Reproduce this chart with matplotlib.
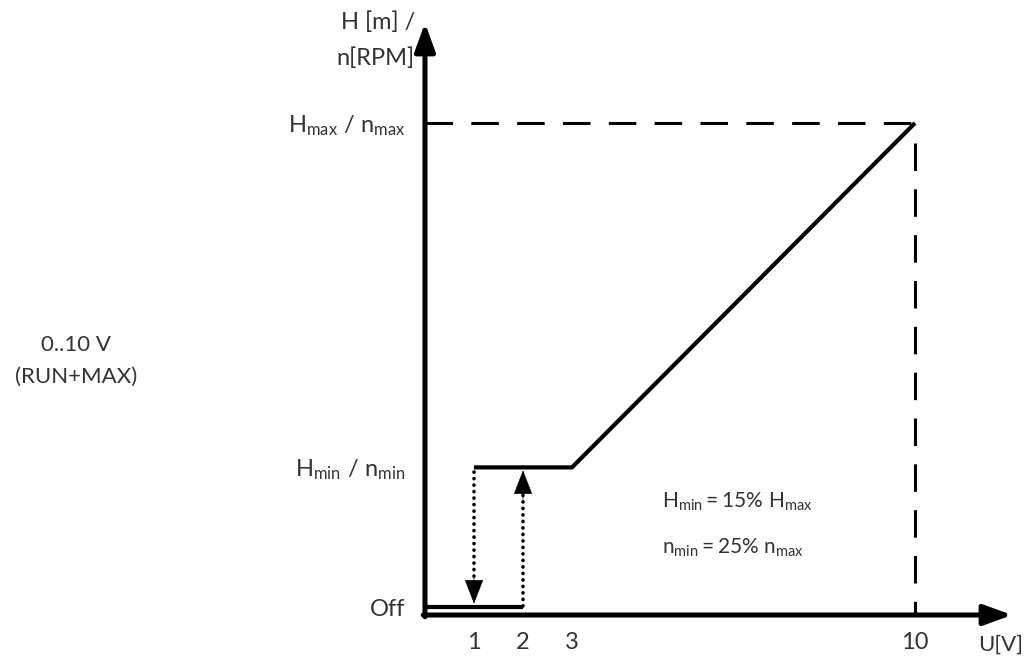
import matplotlib
matplotlib.use("Agg")
import matplotlib.pyplot as plt

# ---- data ----
x_ticks = [1, 2, 3, 10]
x_tick_labels = ["1", "2", "3", "10"]
off_level = 1.6
h_min = 30.0
h_max = 100.0
curve_x = [1, 3, 10]          # Hmin plateau from 1 to 3, ramp to 10
curve_y = [h_min, h_min, h_max]
off_x = [0, 2]
off_y = [off_level, off_level]
y_tick_vals = [off_level, h_min, h_max]
switch_off_v = 1
switch_on_v = 2

plt.rcParams['font.family'] = ['Lato', 'DejaVu Sans']
plt.rcParams['mathtext.fontset'] = 'custom'
plt.rcParams['mathtext.rm'] = 'Lato'
plt.rcParams['mathtext.it'] = 'Lato'

TXT = '#333333'
W, H = 1032, 659
fig = plt.figure(figsize=(W / 100, H / 100), dpi=100)
ax = fig.add_axes([425 / W, (H - 615) / H, (1012 - 425) / W, (615 - 23) / H])
ax.set_xlim(0, (1012 - 425) / 49)
ax.set_ylim(0, (615 - 23) / 4.92)

for s in ['top', 'right', 'left', 'bottom']:
    ax.spines[s].set_visible(False)
ax.tick_params(length=0, labelsize=17, colors=TXT)
ax.set_xticks(x_ticks)
ax.set_xticklabels(x_tick_labels)
ax.tick_params(axis='x', pad=12)
ax.set_yticks(y_tick_vals)
ax.set_yticklabels(['Off',
                    r'$\mathregular{H_{min}\ /\ n_{min}}$',
                    r'$\mathregular{H_{max}\ /\ n_{max}}$'])
ax.tick_params(axis='y', pad=14)

# axes drawn as arrows
axis_arrow = dict(arrowstyle='-|>,head_length=1.7,head_width=0.62', lw=3.6,
                  color='black', shrinkA=0, shrinkB=0)
ax.annotate('', xy=(1, 0), xytext=(-0.003, 0), xycoords='axes fraction',
            arrowprops=axis_arrow, annotation_clip=False)
ax.annotate('', xy=(0, 1), xytext=(0, -0.003), xycoords='axes fraction',
            arrowprops=axis_arrow, annotation_clip=False)

# main curve
ax.plot(curve_x, curve_y, color='black', lw=3.0, solid_capstyle='butt', clip_on=False)
ax.plot(off_x, off_y, color='black', lw=3.0, solid_capstyle='butt', clip_on=False)

# dashed guides to Hmax
ax.plot([0, curve_x[-1]], [h_max, h_max], color='black', lw=2.2, dashes=(9, 6), clip_on=False)
ax.plot([curve_x[-1], curve_x[-1]], [h_max - 4, 0], color='black', lw=2.2, dashes=(9, 6), clip_on=False)

# dotted switching arrows: dotted shaft + solid head
dot_kw = dict(color='black', lw=2.6, linestyle=(0, (0.05, 1.75)), dash_capstyle='round')
ax.plot([switch_off_v, switch_off_v], [h_min - 1.0, off_level + 5], **dot_kw)
ax.plot([switch_on_v, switch_on_v], [off_level + 0.3, h_min - 5], **dot_kw)
head = dict(arrowstyle='-|>,head_length=1.6,head_width=0.62', lw=0.5,
            color='black', shrinkA=0, shrinkB=0)
ax.annotate('', xy=(switch_off_v, off_level + 0.7), xytext=(switch_off_v, off_level + 6.5), arrowprops=head)
ax.annotate('', xy=(switch_on_v, h_min - 0.6), xytext=(switch_on_v, h_min - 6.5), arrowprops=head)

# labels
fig.text(415 / W, 1 - 22 / H, 'H [m] /', ha='right', va='center', fontsize=17, color=TXT)
fig.text(415 / W, 1 - 58 / H, 'n[RPM]', ha='right', va='center', fontsize=17, color=TXT)
fig.text(1001 / W, 1 - 645 / H, 'U[V]', ha='center', va='center', fontsize=16, color=TXT)
fig.text(662 / W, 1 - 502 / H, r'$\mathregular{H_{min} = 15\%\ H_{max}}$', ha='left', va='center', fontsize=15, color=TXT)
fig.text(662 / W, 1 - 548 / H, r'$\mathregular{n_{min} = 25\%\ n_{max}}$', ha='left', va='center', fontsize=15, color=TXT)
fig.text(76 / W, 1 - 345 / H, '0..10 V', ha='center', va='center', fontsize=16, color=TXT)
fig.text(76 / W, 1 - 377 / H, '(RUN+MAX)', ha='center', va='center', fontsize=16, color=TXT)

fig.savefig('out.png', dpi=100)
